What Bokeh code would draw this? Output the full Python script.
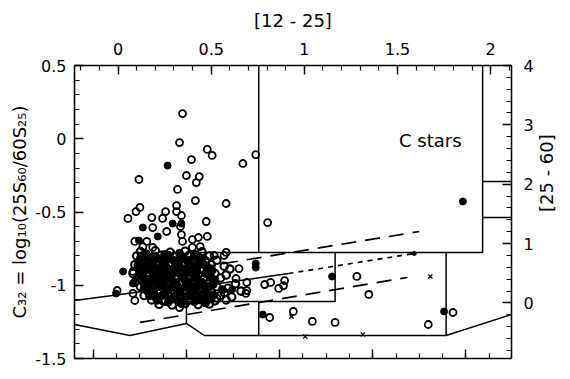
import math
from bokeh.plotting import figure
from bokeh.models import LinearAxis, Range1d, FixedTicker, CustomJSTickFormatter
from bokeh.embed import file_html
from bokeh.resources import INLINE
from bokeh.core.properties import value

FONT = "DejaVu Sans"

# ---------------- axis values ----------------
x_lo, x_hi = -0.234, 2.112          # [12 - 25] (top axis, main x)
y_lo, y_hi = -1.5, 0.5              # C32 (left axis, main y)
r_lo, r_hi = -0.935, 4.0            # [25 - 60] (right axis)
top_ticks = [0, 0.5, 1, 1.5, 2]
left_ticks = [-1.5, -1, -0.5, 0, 0.5]
right_ticks = [0, 1, 2, 3, 4]
bottom_ticks = [-0.133, 0.367, 0.867, 1.367, 1.867]

# ---------------- region boundaries ----------------
boundary_xs = [
    [0.755, 0.755, 1.957, 1.957],            # C-star box
    [0.367, 0.755],                          # top of middle box
    [1.957, 2.112], [1.957, 2.112],          # small box at right
    [0.367, 0.367],                          # left side of middle box
    [0.367, 1.165, 1.165],                   # middle box bottom/right
    [-0.234, 0.064, 0.367, 0.463, 1.761, 2.112],  # lower boundary
    [0.755, 0.755],                          # vertical in lower box
    [1.761, 1.761],                          # vertical at right of lower box
    [-0.234, 0.011, 0.245, 0.542, 0.915],    # solid curve
]
boundary_ys = [
    [0.5, -0.776, -0.776, 0.5],
    [-0.776, -0.776],
    [-0.292, -0.292], [-0.538, -0.538],
    [-0.776, -1.261],
    [-1.111, -1.111, -0.776],
    [-1.268, -1.343, -1.261, -1.343, -1.343, -1.200],
    [-1.111, -1.343],
    [-0.776, -1.343],
    [-1.104, -1.063, -1.022, -0.988, -0.920],
]
dash_up_x, dash_up_y = [0.436, 1.617], [-0.879, -0.633]
dash_lo_x, dash_lo_y = [0.117, 1.553], [-1.254, -0.947]
dot_x, dot_y = [0.915, 1.590], [-0.920, -0.783]

# ---------------- sources ----------------
open_x = [0.346, 0.330, 0.479, 0.505, 0.739, 0.670, 0.394, 0.112, 0.367, 0.436,
          0.420, 0.319, 0.415, 0.580, 0.314, 0.117, 0.096, 0.255, 0.314, 0.340,
          0.053, 0.181, 0.239, 0.473, 0.803, 0.186, 0.335, 0.261, 0.340, 0.479,
          0.431, 0.399, 0.090, 0.154, 0.346, 0.441, 0.399, 0.133, 0.186, 0.516,
          0.580, 0.569, 0.649, 0.505, 0.633, 0.691, 0.787, 0.819, 0.862, 0.888,
          0.894, 0.691, 0.686, 1.282, 1.346, 0.941, 0.814, 1.043, 1.165, 1.798,
          1.665, -0.005, 0.080, 0.106, 0.080, 0.090, 0.330, 0.340, 0.250, 0.532]
open_y = [0.172, -0.026, -0.073, -0.114, -0.108, -0.169, -0.142, -0.278, -0.251, -0.258,
          -0.299, -0.346, -0.422, -0.442, -0.456, -0.469, -0.497, -0.497, -0.497, -0.524,
          -0.544, -0.538, -0.544, -0.565, -0.572, -0.606, -0.599, -0.633, -0.654, -0.667,
          -0.674, -0.688, -0.701, -0.701, -0.701, -0.736, -0.742, -0.736, -0.742, -0.797,
          -0.776, -0.797, -0.886, -0.899, -0.954, -0.981, -0.995, -0.981, -1.022, -1.002,
          -0.968, -1.036, -1.056, -0.940, -1.063, -1.179, -1.220, -1.247, -1.254, -1.186,
          -1.268, -1.036, -0.906, -0.865, -1.056, -1.104, -1.152, -1.125, -1.111, -1.090]

filled_x = [0.266, 0.293, 0.340, 0.133, 0.213, 0.112, 0.027, 0.080, -0.011, 0.739,
            0.739, 0.612, 1.149, 0.777, 1.750, 1.851]
filled_y = [-0.183, -0.579, -0.579, -0.606, -0.667, -0.695, -0.906, -0.988, -1.056, -0.852,
            -0.879, -1.029, -0.940, -1.200, -1.179, -0.428]
small_dot_x, small_dot_y = [1.590], [-0.783]

cross_x = [1.676, 0.931, 1.005, 1.314]
cross_y = [-0.940, -1.213, -1.350, -1.336]

# dense cluster of sources
cl_open_x = [0.12, 0.20, 0.28, 0.36, 0.45,
             0.10, 0.16, 0.23, 0.30, 0.38, 0.43, 0.49,
             0.13, 0.19, 0.26, 0.33, 0.40, 0.47, 0.53,
             0.09, 0.15, 0.21, 0.28, 0.35, 0.42, 0.50, 0.57,
             0.12, 0.18, 0.25, 0.32, 0.39, 0.45, 0.60,
             0.08, 0.15, 0.22, 0.29, 0.36, 0.43, 0.52, 0.58,
             0.11, 0.18, 0.24, 0.31, 0.38, 0.46, 0.55,
             0.09, 0.14, 0.21, 0.27, 0.34, 0.41, 0.49, 0.63,
             0.12, 0.19, 0.25, 0.32, 0.39, 0.45, 0.53, 0.59,
             0.16, 0.22, 0.29, 0.36, 0.43, 0.50, 0.57, 0.66,
             0.14, 0.20, 0.27, 0.34, 0.41, 0.47, 0.55, 0.61,
             0.18, 0.24, 0.31, 0.38, 0.44, 0.52, 0.58,
             0.22, 0.29, 0.36, 0.43, 0.49]
cl_open_y = [-0.770, -0.765, -0.775, -0.768, -0.772,
             -0.800, -0.805, -0.795, -0.802, -0.798, -0.806, -0.800,
             -0.830, -0.835, -0.825, -0.832, -0.828, -0.834, -0.830,
             -0.860, -0.865, -0.855, -0.862, -0.858, -0.866, -0.860, -0.870,
             -0.890, -0.895, -0.885, -0.892, -0.888, -0.894, -0.890,
             -0.920, -0.925, -0.915, -0.922, -0.918, -0.926, -0.920, -0.930,
             -0.950, -0.955, -0.945, -0.952, -0.948, -0.956, -0.950,
             -0.980, -0.985, -0.975, -0.982, -0.978, -0.986, -0.980, -0.990,
             -1.010, -1.015, -1.005, -1.012, -1.008, -1.016, -1.010, -1.020,
             -1.040, -1.045, -1.035, -1.042, -1.038, -1.046, -1.050, -1.040,
             -1.070, -1.075, -1.065, -1.072, -1.068, -1.076, -1.070, -1.080,
             -1.100, -1.105, -1.095, -1.102, -1.098, -1.106, -1.100,
             -1.130, -1.135, -1.125, -1.132, -1.128]
cl_fill_x = [0.15, 0.25, 0.33, 0.41,
             0.12, 0.20, 0.27, 0.35, 0.45,
             0.16, 0.24, 0.31, 0.38, 0.44,
             0.11, 0.19, 0.26, 0.33, 0.40, 0.48,
             0.14, 0.21, 0.29, 0.36, 0.42, 0.50,
             0.12, 0.19, 0.26, 0.34, 0.41, 0.49,
             0.15, 0.22, 0.29, 0.36, 0.43, 0.52,
             0.17, 0.24, 0.30, 0.37, 0.43, 0.51,
             0.14, 0.27, 0.34, 0.41, 0.47, 0.56,
             0.19, 0.25, 0.32, 0.39, 0.46,
             0.22, 0.30, 0.36, 0.44, 0.50,
             0.27, 0.34, 0.41, 0.47]
cl_fill_y = [-0.785, -0.790, -0.782, -0.788,
             -0.815, -0.812, -0.818, -0.815, -0.820,
             -0.845, -0.848, -0.842, -0.846, -0.850,
             -0.875, -0.872, -0.878, -0.875, -0.880, -0.876,
             -0.905, -0.902, -0.908, -0.905, -0.910, -0.905,
             -0.935, -0.938, -0.932, -0.936, -0.940, -0.935,
             -0.965, -0.962, -0.968, -0.965, -0.970, -0.965,
             -0.995, -0.998, -0.992, -0.996, -1.000, -0.995,
             -1.025, -1.028, -1.022, -1.026, -1.030, -1.030,
             -1.055, -1.058, -1.052, -1.056, -1.060,
             -1.085, -1.088, -1.082, -1.086, -1.090,
             -1.115, -1.118, -1.112, -1.120]
cl_core_x = [0.13, 0.20, 0.27, 0.34, 0.41,
             0.16, 0.23, 0.30, 0.37, 0.44,
             0.12, 0.18, 0.25, 0.32, 0.39, 0.46,
             0.15, 0.22, 0.29, 0.36, 0.42,
             0.12, 0.19, 0.26, 0.33, 0.40, 0.47,
             0.14, 0.21, 0.28, 0.35, 0.42, 0.50,
             0.18, 0.24, 0.31, 0.38, 0.45,
             0.16, 0.22, 0.29, 0.36, 0.42, 0.49,
             0.19, 0.26, 0.33, 0.40, 0.47,
             0.17, 0.24, 0.31, 0.38, 0.44, 0.51,
             0.21, 0.28, 0.35, 0.41, 0.48]
cl_core_y = [-0.800, -0.803, -0.797, -0.801, -0.804,
             -0.830, -0.827, -0.833, -0.829, -0.831,
             -0.860, -0.857, -0.863, -0.859, -0.862, -0.858,
             -0.890, -0.887, -0.893, -0.889, -0.891,
             -0.920, -0.917, -0.923, -0.919, -0.922, -0.918,
             -0.950, -0.947, -0.953, -0.949, -0.951, -0.948,
             -0.980, -0.977, -0.983, -0.979, -0.981,
             -1.010, -1.007, -1.013, -1.009, -1.011, -1.008,
             -1.040, -1.037, -1.043, -1.039, -1.041,
             -1.070, -1.067, -1.073, -1.069, -1.071, -1.068,
             -1.100, -1.097, -1.103, -1.099, -1.101]

# ---------------- figure ----------------
p = figure(width=570, height=379,
           x_range=Range1d(x_lo, x_hi), y_range=Range1d(y_lo, y_hi),
           output_backend="svg", toolbar_location=None,
           min_border_left=74, min_border_right=55,
           min_border_top=65, min_border_bottom=21)
p.extra_y_ranges = {"r": Range1d(r_lo, r_hi)}
p.xgrid.visible = False
p.ygrid.visible = False
p.outline_line_color = None
p.background_fill_color = "white"
p.border_fill_color = "white"

fmt = CustomJSTickFormatter(code="return String(Math.round(tick*10)/10);")
blank = CustomJSTickFormatter(code="return '';")


def style(ax, major, minor, formatter):
    ax.ticker = FixedTicker(ticks=major, minor_ticks=minor)
    ax.formatter = formatter
    ax.axis_line_color = "black"
    ax.axis_line_width = 1.6
    ax.major_tick_line_color = "black"
    ax.major_tick_line_width = 1.4
    ax.minor_tick_line_color = "black"
    ax.minor_tick_line_width = 1.2
    ax.major_tick_in = 9
    ax.major_tick_out = 0
    ax.minor_tick_in = 5
    ax.minor_tick_out = 0
    ax.major_label_text_font = FONT
    ax.major_label_text_font_size = "16px"
    ax.major_label_text_color = "black"
    ax.axis_label_text_font = FONT
    ax.axis_label_text_font_size = "18px"
    ax.axis_label_text_font_style = "normal"
    ax.axis_label_text_color = "black"


left_minor = [round(-1.5 + 0.1 * i, 2) for i in range(21)]
top_minor = [round(-0.2 + 0.1 * i, 2) for i in range(24)]
right_minor = [round(-0.8 + 0.2 * i, 2) for i in range(25)]
bottom_minor = [round(-0.133 + 0.125 * i, 3) for i in range(-1, 19)]

style(p.yaxis[0], left_ticks, left_minor, fmt)
p.yaxis[0].axis_label = "C\u2083\u2082 = log\u2081\u2080(25S\u2086\u2080/60S\u2082\u2085)"
p.yaxis[0].major_label_standoff = 8
p.yaxis[0].axis_label_standoff = 2

style(p.xaxis[0], bottom_ticks, bottom_minor, blank)
p.xaxis[0].major_label_standoff = 0

top = LinearAxis(axis_label="[12 - 25]")
style(top, top_ticks, top_minor, fmt)
top.major_label_standoff = 11
top.axis_label_standoff = 9
p.add_layout(top, "above")

right = LinearAxis(y_range_name="r", axis_label="[25 - 60]")
style(right, right_ticks, right_minor, fmt)
right.major_label_standoff = 12
right.axis_label_standoff = 10
if "axis_label_orientation" in right.properties():
    right.axis_label_orientation = math.pi / 2
p.add_layout(right, "right")

# boundaries
p.multi_line(boundary_xs, boundary_ys, line_color="black", line_width=1.5)
p.line(dash_up_x, dash_up_y, line_color="black", line_width=1.7, line_dash="15 9")
p.line(dash_lo_x, dash_lo_y, line_color="black", line_width=1.7, line_dash="15 9")
p.line(dot_x, dot_y, line_color="black", line_width=1.7, line_dash="5 5")

# sources
p.scatter(cl_open_x, cl_open_y, marker="circle", size=7.5, fill_color=None,
          line_color="black", line_width=2.1)
p.scatter(cl_fill_x, cl_fill_y, marker="circle", size=8, fill_color="black",
          line_color="black", line_width=1)
p.scatter(cl_core_x, cl_core_y, marker="circle", size=8.5, fill_color="black",
          line_color="black", line_width=1)
p.scatter(open_x, open_y, marker="circle", size=7, fill_color=None,
          line_color="black", line_width=1.8)
p.scatter(filled_x, filled_y, marker="circle", size=7, fill_color="black",
          line_color="black", line_width=1)
p.scatter(small_dot_x, small_dot_y, marker="circle", size=4, fill_color="black",
          line_color="black", line_width=1)
p.scatter(cross_x, cross_y, marker="x", size=6, line_color="black", line_width=1.3)

p.text(x=[1.676], y=[-0.012], text=["C stars"], text_font=value(FONT),
       text_font_size="18px", text_align="center", text_baseline="middle",
       text_color="black")

open("out.html", "w").write(file_html(p, INLINE))
